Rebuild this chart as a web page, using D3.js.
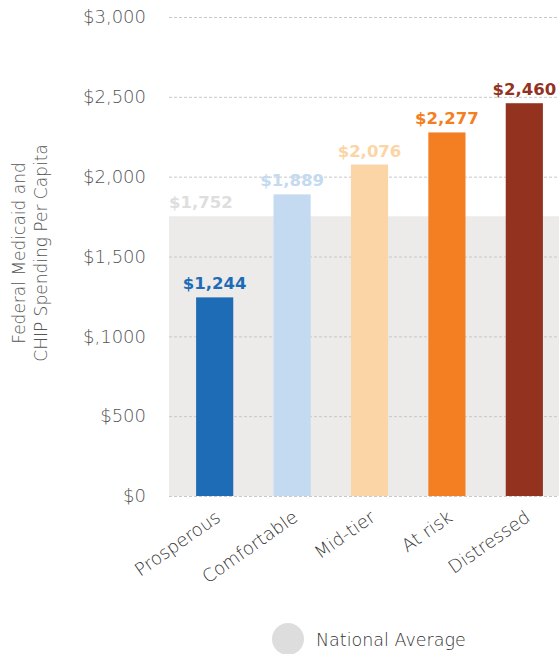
<!DOCTYPE html>
<html>
<head>
<meta charset="utf-8">
<script src="https://cdn.jsdelivr.net/npm/d3@7"></script>
<style>
  body { margin: 0; background: #fff; }
  svg { display: block; font-family: "DejaVu Sans", sans-serif; }
</style>
</head>
<body>
<div id="chart"></div>
<script>
// Dados
const categories = ["Prosperous", "Comfortable", "Mid-tier", "At risk", "Distressed"];
const spending = [1244, 1889, 2076, 2277, 2460];
const colors = ["#1f6cb6", "#c3daf1", "#fbd5a6", "#f47e22", "#93321f"];
const nationalAverage = 1752;
const tickValues = [0, 500, 1000, 1500, 2000, 2500, 3000];
const tickLabels = ["$0", "$500", "$,1000", "$1,500", "$2,000", "$2,500", "$3,000"];

const width = 559, height = 654;
const margin = {top: 17, left: 169, bottom: 158};

const svg = d3.select("#chart").append("svg")
    .attr("width", width)
    .attr("height", height);

// Escalas
const x = d3.scaleBand()
    .domain(categories)
    .range([margin.left, 570])
    .paddingInner(0.52)
    .paddingOuter(0.35);

const y = d3.scaleLinear()
    .domain([0, 3000])
    .range([height - margin.bottom, margin.top]);

// Faixa da média nacional
svg.append("rect")
    .attr("x", margin.left)
    .attr("y", y(nationalAverage))
    .attr("width", width - margin.left)
    .attr("height", y(0) - y(nationalAverage))
    .attr("fill", "#ecebea");

svg.append("text")
    .attr("x", margin.left)
    .attr("y", y(nationalAverage) - 8)
    .attr("font-size", 16.5)
    .attr("font-weight", 700)
    .attr("fill", "#dedede")
    .text("$" + d3.format(",")(nationalAverage));

// Linhas de grade
svg.append("g")
    .selectAll("line")
    .data(tickValues)
    .join("line")
    .attr("x1", margin.left)
    .attr("x2", width)
    .attr("y1", d => y(d) + 0.5)
    .attr("y2", d => y(d) + 0.5)
    .attr("stroke", "#c8c8c8")
    .attr("stroke-dasharray", "3,2");

// Eixo Y
const yAxis = svg.append("g")
    .attr("transform", `translate(${margin.left},0)`)
    .call(d3.axisLeft(y).tickValues(tickValues)
        .tickFormat((d, i) => tickLabels[i]).tickSize(0).tickPadding(23));
yAxis.select(".domain").remove();
yAxis.selectAll("text")
    .attr("font-size", 18)
    .attr("font-weight", 200)
    .attr("fill", "#555")
    .attr("font-family", "DejaVu Sans");

// Título do eixo Y
const yTitle = svg.append("text")
    .attr("transform", `translate(25,253) rotate(-90)`)
    .attr("text-anchor", "middle")
    .attr("font-size", 17)
    .attr("font-weight", 200)
    .attr("fill", "#555");
yTitle.append("tspan").attr("x", 0).attr("dy", 0).text("Federal Medicaid and");
yTitle.append("tspan").attr("x", 0).attr("dy", 22).text("CHIP Spending Per Capita");

// Barras
svg.append("g")
    .selectAll("rect")
    .data(categories)
    .join("rect")
    .attr("x", d => x(d))
    .attr("y", (d, i) => y(spending[i]))
    .attr("width", x.bandwidth())
    .attr("height", (d, i) => y(0) - y(spending[i]))
    .attr("fill", (d, i) => colors[i]);

// Rótulos de valor
svg.append("g")
    .selectAll("text")
    .data(categories)
    .join("text")
    .attr("x", d => x(d) + x.bandwidth() / 2)
    .attr("y", (d, i) => y(spending[i]) - 8)
    .attr("text-anchor", "middle")
    .attr("font-size", 16.5)
    .attr("font-weight", 700)
    .attr("fill", (d, i) => colors[i])
    .text((d, i) => "$" + d3.format(",")(spending[i]));

// Rótulos das categorias
svg.append("g")
    .selectAll("text")
    .data(categories)
    .join("text")
    .attr("transform", d => `translate(${x(d) + x.bandwidth() / 2 + 7},${y(0) + 24}) rotate(-35)`)
    .attr("text-anchor", "end")
    .attr("font-size", 18)
    .attr("font-weight", 200)
    .attr("fill", "#333")
    .text(d => d);

// Legenda
svg.append("circle")
    .attr("cx", 288)
    .attr("cy", 639)
    .attr("r", 16)
    .attr("fill", "#dddddd");

svg.append("text")
    .attr("x", 316)
    .attr("y", 646)
    .attr("font-size", 17.5)
    .attr("font-weight", 200)
    .attr("fill", "#333")
    .text("National Average");
</script>
</body>
</html>
